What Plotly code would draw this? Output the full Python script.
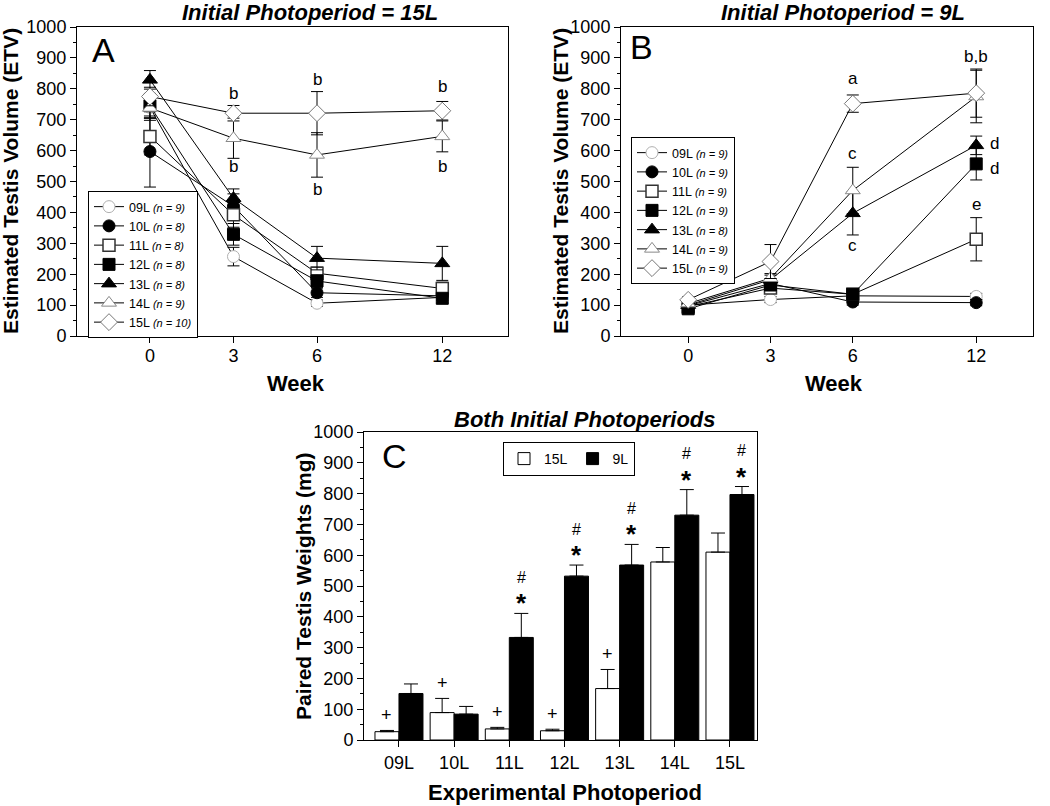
import plotly.graph_objects as go

FONT = "Liberation Sans, Arial, Helvetica, sans-serif"
W, H = 1050, 806

# ---------------- data ----------------
weeks = [0, 3, 6, 12]
# the week axis is drawn on a broken scale: week 12 sits 1.5 intervals after week 6
week_axis_position = {0: 0, 3: 3, 6: 6, 12: 10.5}

photoperiods = ["09L", "10L", "11L", "12L", "13L", "14L", "15L"]
n_init15 = [9, 8, 8, 8, 8, 9, 10]
n_init9 = [9, 9, 9, 9, 8, 9, 9]

# Panel A: ETV, initial photoperiod 15L (mean, sem at weeks 0, 3, 6, 12)
a_09L = [740, 257, 106, 125]; a_09L_sem = [35, 30, 10, 10]
a_10L = [597, 420, 140, 130]; a_10L_sem = [115, 40, 15, 10]
a_11L = [646, 392, 203, 154]; a_11L_sem = [60, 40, 20, 20]
a_12L = [745, 329, 178, 122]; a_12L_sem = [40, 35, 20, 15]
a_13L = [829, 446, 252, 235]; a_13L_sem = [30, 30, 38, 55]
a_14L = [738, 640, 586, 646]; a_14L_sem = [40, 65, 72, 50]
a_15L = [775, 721, 721, 729]; a_15L_sem = [30, 25, 70, 30]

# Panel B: ETV, initial photoperiod 9L
b_09L = [100, 118, 130, 128]; b_09L_sem = [8, 10, 10, 10]
b_10L = [98, 170, 110, 108]; b_10L_sem = [8, 15, 10, 10]
b_11L = [95, 155, 135, 313]; b_11L_sem = [8, 15, 10, 70]
b_12L = [88, 165, 135, 557]; b_12L_sem = [8, 15, 10, 52]
b_13L = [100, 182, 397, 617]; b_13L_sem = [8, 15, 70, 30]
b_14L = [105, 187, 471, 775]; b_14L_sem = [8, 15, 75, 85]
b_15L = [117, 241, 752, 786]; b_15L_sem = [10, 55, 28, 78]

# Panel C: paired testis weights (mg)
weight_15L = [27, 89, 36, 30, 167, 578, 610]
weight_15L_sem = [4, 46, 5, 5, 62, 47, 62]
weight_9L = [151, 84, 333, 532, 568, 730, 797]
weight_9L_sem = [31, 25, 78, 36, 67, 83, 26]
plus_15L = [True, True, True, True, True, False, False]
star_9L = [False, False, True, True, True, True, True]
hash_9L = [False, False, True, True, True, True, True]

# significance letters (text, week, ETV level, horizontal nudge px)
letters_A = [("b", 3, 786, 0), ("b", 3, 549, 0), ("b", 6, 829, 0), ("b", 6, 473, 0),
             ("b", 12, 806, 0), ("b", 12, 549, 0)]
letters_B = [("a", 6, 833, 0), ("c", 6, 592, 0), ("c", 6, 293, 0), ("b,b", 12, 903, 0),
             ("d", 12, 622, 18), ("d", 12, 543, 18), ("e", 12, 424, 0)]

series_A = [a_09L, a_10L, a_11L, a_12L, a_13L, a_14L, a_15L]
sem_A = [a_09L_sem, a_10L_sem, a_11L_sem, a_12L_sem, a_13L_sem, a_14L_sem, a_15L_sem]
series_B = [b_09L, b_10L, b_11L, b_12L, b_13L, b_14L, b_15L]
sem_B = [b_09L_sem, b_10L_sem, b_11L_sem, b_12L_sem, b_13L_sem, b_14L_sem, b_15L_sem]

# ---------------- styles ----------------
styles = [
    dict(symbol="circle", size=12, color="white", line=dict(color="#b0b0b0", width=1)),
    dict(symbol="circle", size=12, color="black", line=dict(color="black", width=1)),
    dict(symbol="square", size=12, color="white", line=dict(color="#333333", width=1.5)),
    dict(symbol="square", size=12, color="black", line=dict(color="black", width=1)),
    dict(symbol="triangle-up", size=13, color="black", line=dict(color="black", width=1)),
    dict(symbol="triangle-up", size=13, color="white", line=dict(color="#888888", width=1)),
    dict(symbol="diamond", size=13, color="white", line=dict(color="#777777", width=1)),
]

fig = go.Figure()
xpos = [week_axis_position[w] for w in weeks]

def label(p, n):
    return f"{p} <i><span style='font-size:11px'>(n = {n})</span></i>"

for i, p in enumerate(photoperiods):
    fig.add_trace(go.Scatter(
        x=xpos, y=series_A[i], mode="lines+markers", name=label(p, n_init15[i]),
        error_y=dict(type="data", array=sem_A[i], color="black", thickness=1, width=6),
        line=dict(color="black", width=1), marker=styles[i],
        xaxis="x", yaxis="y", legend="legend"))
for i, p in enumerate(photoperiods):
    fig.add_trace(go.Scatter(
        x=xpos, y=series_B[i], mode="lines+markers", name=label(p, n_init9[i]),
        error_y=dict(type="data", array=sem_B[i], color="black", thickness=1, width=6),
        line=dict(color="black", width=1), marker=styles[i],
        xaxis="x2", yaxis="y2", legend="legend2"))

fig.add_trace(go.Bar(
    x=photoperiods, y=weight_15L, name="15L", offsetgroup="a",
    marker=dict(color="white", line=dict(color="black", width=1)),
    error_y=dict(type="data", symmetric=False, array=weight_15L_sem,
                 arrayminus=[0] * len(weight_15L), color="black", thickness=1, width=7),
    xaxis="x3", yaxis="y3", legend="legend3"))
fig.add_trace(go.Bar(
    x=photoperiods, y=weight_9L, name="9L", offsetgroup="b",
    marker=dict(color="black", line=dict(color="black", width=1)),
    error_y=dict(type="data", symmetric=False, array=weight_9L_sem,
                 arrayminus=[0] * len(weight_9L), color="black", thickness=1, width=7),
    xaxis="x3", yaxis="y3", legend="legend3"))

# ---------------- axes ----------------
def px_x(v):
    return v / W

def px_y(v):
    return 1 - v / H

common = dict(showline=True, linecolor="black", linewidth=1, mirror=True, ticks="outside",
              ticklen=6, tickcolor="black", tickfont=dict(size=18, color="black", family=FONT),
              showgrid=False, zeroline=False, automargin=False)
yminor = dict(ticks="outside", ticklen=3, tickcolor="black", dtick=50, showgrid=False)

yA = [px_y(336), px_y(27)]
fig.update_layout(
    xaxis=dict(domain=[px_x(77), px_x(508)], range=[-2.62, 12.86], anchor="y",
               tickvals=xpos, ticktext=[str(w) for w in weeks], ticklabelstandoff=-3, **common),
    yaxis=dict(domain=yA, range=[0, 1000], anchor="x", dtick=100, minor=yminor, **common),
    xaxis2=dict(domain=[px_x(621), px_x(1033)], range=[-2.45, 12.57], anchor="y2",
                tickvals=xpos, ticktext=[str(w) for w in weeks], ticklabelstandoff=-3, **common),
    yaxis2=dict(domain=yA, range=[0, 1000], anchor="x2", dtick=100, minor=yminor, **common),
    xaxis3=dict(domain=[px_x(364), px_x(757)], range=[-0.634, 6.49], anchor="y3",
                type="category", **common),
    yaxis3=dict(domain=[px_y(740), px_y(432)], range=[0, 1000], anchor="x3", dtick=100,
                minor=yminor, **common),
    barmode="group", bargap=0.13, bargroupgap=0,
)

legend_common = dict(bordercolor="black", borderwidth=1, bgcolor="white",
                     font=dict(size=12.5, color="black", family=FONT),
                     xanchor="left", yanchor="top", tracegroupgap=0)
fig.update_layout(
    legend=dict(x=px_x(88), y=px_y(191), **legend_common),
    legend2=dict(x=px_x(631), y=px_y(137), **legend_common),
    legend3=dict(x=px_x(503), y=px_y(442), orientation="h", itemwidth=30,
                 **{**legend_common, "font": dict(size=14, color="black", family=FONT)}),
)

# ---------------- annotations ----------------
ann = []

def txt(text, x, y, size, xref="paper", yref="paper", angle=0, xanchor="center",
        yanchor="middle", xshift=0, yshift=0):
    ann.append(dict(text=text, x=x, y=y, xref=xref, yref=yref, showarrow=False,
                    textangle=angle, xanchor=xanchor, yanchor=yanchor, xshift=xshift,
                    yshift=yshift, font=dict(size=size, color="black", family=FONT)))

txt("<b><i>Initial Photoperiod = 15L</i></b>", px_x(310), px_y(12), 22)
txt("<b><i>Initial Photoperiod = 9L</i></b>", px_x(843), px_y(12), 22)
txt("<b><i>Both Initial Photoperiods</i></b>", px_x(585), px_y(419), 22)

txt("<b>Estimated Testis Volume (ETV)</b>", px_x(11), px_y(181), 21, angle=-90)
txt("<b>Estimated Testis Volume (ETV)</b>", px_x(561), px_y(181), 21, angle=-90)
txt("<b>Paired Testis Weights (mg)</b>", px_x(303), px_y(586), 21, angle=-90)
txt("<b>Week</b>", px_x(296), px_y(383), 22)
txt("<b>Week</b>", px_x(834), px_y(383), 22)
txt("<b>Experimental Photoperiod</b>", px_x(565), px_y(792), 22)

txt("A", px_x(90), px_y(50), 34, xanchor="left")
txt("B", px_x(628), px_y(47), 34, xanchor="left")
txt("C", px_x(380), px_y(456), 34, xanchor="left")

for t, w, yv, dx in letters_A:
    txt(t, week_axis_position[w], yv, 17, xref="x", yref="y", xshift=dx)
for t, w, yv, dx in letters_B:
    txt(t, week_axis_position[w], yv, 17, xref="x2", yref="y2", xshift=dx)

for i, p in enumerate(photoperiods):
    top15 = weight_15L[i] + weight_15L_sem[i]
    top9 = weight_9L[i] + weight_9L_sem[i]
    if plus_15L[i]:
        txt("+", p, top15, 18, xref="x3", yref="y3", xshift=-12, yshift=15)
    if star_9L[i]:
        txt("<b>*</b>", p, top9, 26, xref="x3", yref="y3", xshift=12, yshift=10)
    if hash_9L[i]:
        txt("#", p, top9, 16, xref="x3", yref="y3", xshift=12, yshift=36)

fig.update_layout(
    annotations=ann,
    width=W, height=H, margin=dict(l=0, r=0, t=0, b=0, autoexpand=False),
    paper_bgcolor="white", plot_bgcolor="white",
    font=dict(family=FONT, color="black"),
)

fig.write_html("out.html", config={"displayModeBar": False},
               post_script="document.body.style.margin='0';document.body.style.overflow='hidden';")
